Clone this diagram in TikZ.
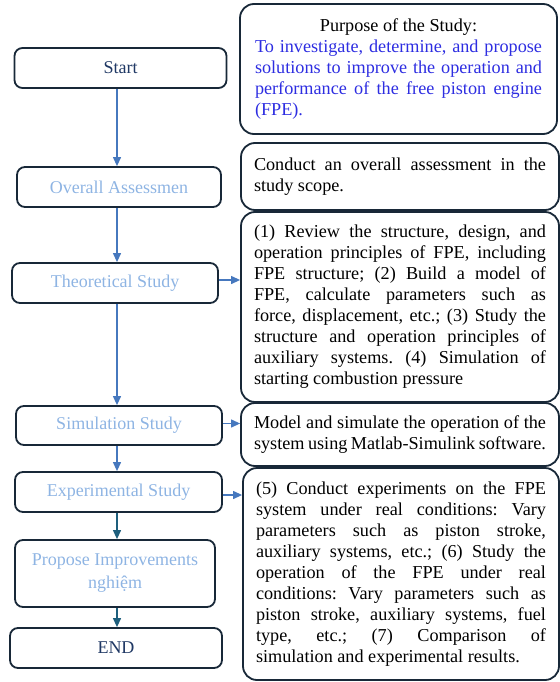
\documentclass[tikz,border=0pt]{standalone}
\usepackage{fontspec}
\setmainfont{Liberation Serif}
\usetikzlibrary{arrows.meta}
\frenchspacing
\definecolor{edge}{RGB}{24,40,56}
\definecolor{flowblue}{RGB}{70,120,190}
\definecolor{flowteal}{RGB}{30,95,125}
\definecolor{stepblue}{RGB}{142,180,227}
\definecolor{navy}{RGB}{31,56,100}
\definecolor{aimblue}{RGB}{45,45,225}
\begin{document}
\begin{tikzpicture}[x=1pt,y=-1pt,
  stage/.style={draw=edge, line width=1.8pt, rounded corners=8pt, align=center,
    font=\fontsize{18}{23}\selectfont, inner sep=2pt, minimum height=40pt},
  note/.style={draw=edge, line width=1.8pt, rounded corners=14pt, align=justify,
    text width=292pt, inner xsep=13pt, inner ysep=2pt, font=\fontsize{18.2}{21}\selectfont},
  flow/.style={draw=flowblue, line width=1.2pt, -{Triangle[length=9pt,width=8pt]}},
]
\useasboundingbox (0,0) rectangle (559,682);

% stages of the study
\node[stage, minimum width=212pt, text=navy] (start) at (120.5,68) {Start};
\node[stage, minimum width=204pt, text=stepblue] (overall) at (119,187) {Overall Assessmen};
\node[stage, minimum width=206pt, text=stepblue] (theo) at (115,283) {Theoretical Study};
\node[stage, minimum width=206pt, minimum height=39pt, text=stepblue] (sim) at (119,425.5) {Simulation Study};
\node[stage, minimum width=207pt, text=stepblue] (exp) at (118.5,492) {Experimental Study};
\node[stage, minimum width=200pt, minimum height=67pt, text=stepblue] (prop) at (115,573.5) {Propose Improvements\\nghiệm};
\node[stage, minimum width=212pt, text=navy] (finish) at (116,648) {END};

% descriptions
\node[note, text width=287pt, inner xsep=15pt, minimum height=130pt] (aim) at (398.5,69)
  {\hspace*{\fill}Purpose of the Study:\hspace*{\fill}\linebreak
   {\color{aimblue}To investigate, determine, and propose\linebreak
   solutions to improve the operation and\linebreak
   performance of the free piston engine\linebreak
   (FPE).}};
\node[note, minimum height=67pt] (assess) at (400,176.5)
  {Conduct an overall assessment in the\linebreak study scope.};
\node[note, minimum height=190pt] (theory) at (400,307)
  {(1) Review the structure, design, and\linebreak
   operation principles of FPE, including\linebreak
   FPE structure; (2) Build a model of\linebreak
   FPE, calculate parameters such as\linebreak
   force, displacement, etc.; (3) Study the\linebreak
   structure and operation principles of\linebreak
   auxiliary systems. (4) Simulation of\linebreak
   starting combustion pressure};
\node[note, minimum height=63pt] (model) at (400,434.5)
  {Model and simulate the operation of the\linebreak
   system using Matlab-Simulink software.};
\node[note, text width=290pt, minimum height=212pt] (tests) at (401,574)
  {(5) Conduct experiments on the FPE\linebreak
   system under real conditions: Vary\linebreak
   parameters such as piston stroke,\linebreak
   auxiliary systems, etc.; (6) Study the\linebreak
   operation of the FPE under real\linebreak
   conditions: Vary parameters such as\linebreak
   piston stroke, auxiliary systems, fuel\linebreak
   type, etc.; (7) Comparison of\linebreak
   simulation and experimental results.};

% main flow
\coordinate (spine) at (117,0);
\draw[flow] (start.south -| spine) -- (overall.north -| spine);
\draw[flow] (overall.south -| spine) -- (theo.north -| spine);
\draw[flow] (theo.south -| spine) -- (sim.north -| spine);
\draw[flow] (sim.south -| spine) -- (exp.north -| spine);
\draw[flow, draw=flowteal] (exp.south -| spine) -- (prop.north -| spine);
\draw[flow, draw=flowteal] (prop.south -| spine) -- (finish.north -| spine);

% links to descriptions
\draw[flow] ([yshift=3pt]theo.east) -- ([yshift=3pt]theo.east -| theory.west);
\draw[flow] ([yshift=2pt]sim.east) -- ([yshift=2pt]sim.east -| model.west);
\draw[flow] ([yshift=-3pt]exp.east) -- ([yshift=-3pt]exp.east -| tests.west);
\end{tikzpicture}
\end{document}
